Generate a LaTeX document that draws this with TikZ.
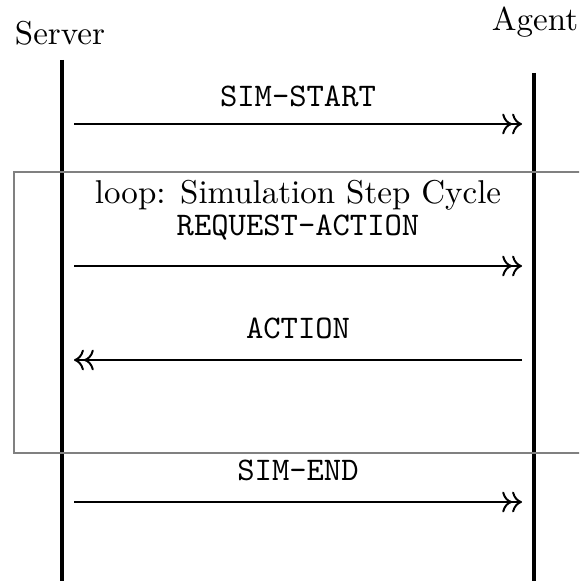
\documentclass[tikz,border=0pt]{standalone}
\usetikzlibrary{arrows.meta}
\begin{document}
\begin{tikzpicture}[x=0.303pt,y=-0.303pt,
  lifeline/.style={line width=1pt},
  msg/.style={line width=0.6pt,-{To[length=3pt]To[length=3pt]}},
  lbl/.style={font=\ttfamily,inner sep=0pt},
  loopbox/.style={draw=gray,line width=0.45pt}]
\useasboundingbox (0,0) rectangle (579,581);
\clip (0,0) rectangle (579,581);
\node[inner sep=0pt] (server) at (60,33) {Server};
\node[inner sep=0pt] (agent) at (535,22) {Agent};
\coordinate (sTop) at (62,60);
\coordinate (sBot) at (62,585);
\coordinate (aTop) at (534,73);
\coordinate (aBot) at (534,585);
\draw[lifeline] (sTop) -- (sBot);
\draw[lifeline] (aTop) -- (aBot);
\draw[loopbox] (620,172) -- (14,172) -- (14,453) -- (620,453);
\node[inner sep=0pt] (looplbl) at (298,195) {loop: Simulation Step Cycle};
% messages
\coordinate (m1s) at (74,124); \coordinate (m1e) at (522,124);
\draw[msg] (m1s) -- (m1e);
\node[lbl] (l1) at (298,96) {SIM-START};
\coordinate (m2s) at (74,266); \coordinate (m2e) at (522,266);
\draw[msg] (m2s) -- (m2e);
\node[lbl] (l2) at (298,228) {REQUEST-ACTION};
\coordinate (m3s) at (522,360); \coordinate (m3e) at (74,360);
\draw[msg] (m3s) -- (m3e);
\node[lbl] (l3) at (298,328) {ACTION};
\coordinate (m4s) at (74,502); \coordinate (m4e) at (522,502);
\draw[msg] (m4s) -- (m4e);
\node[lbl] (l4) at (298,470) {SIM-END};
\end{tikzpicture}
\end{document}
